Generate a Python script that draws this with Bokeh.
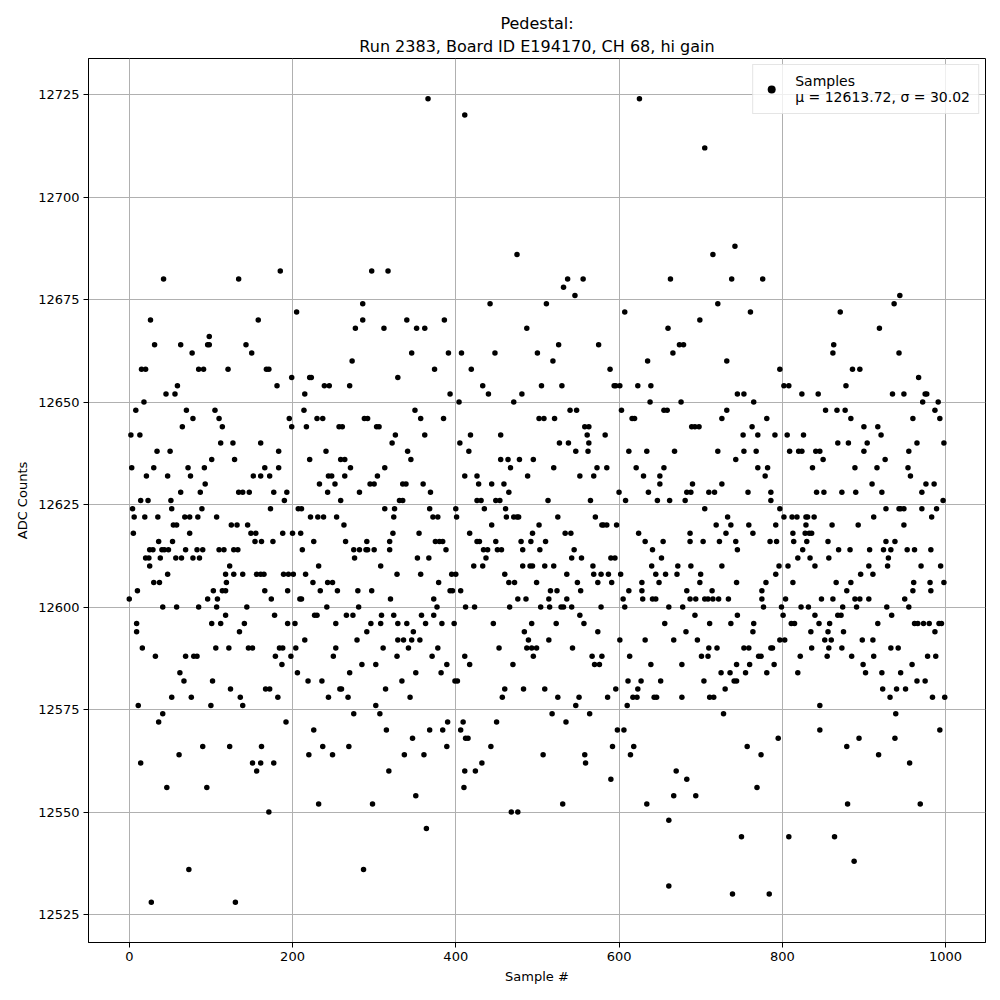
from bokeh.plotting import figure
from bokeh.models import Range1d, FixedTicker, Legend, LegendItem, BasicTickFormatter, Title
from bokeh.embed import file_html
from bokeh.resources import INLINE

# (sample #, ADC counts), block by block
block_a = [(42,12680),(26,12670),(31,12664),(63,12664),(77,12662),(15,12658),(20,12658),(45,12652),(56,12652),(59,12654),
           (18,12650),(8,12648),(70,12648),(78,12646),(65,12644),(2,12642),(13,12642),(34,12638),(50,12638),(3,12634),
           (30,12634),(72,12634),(21,12632),(47,12632),(75,12632),(63,12628),(14,12626),(23,12626),(51,12626),(4,12624),
           (52,12624),(6,12622),(19,12622),(35,12622),(68,12622),(74,12622),(54,12620),(58,12620),(5,12618),(74,12618),
           (36,12616),(53,12616),(25,12614),(29,12614),(40,12614),(43,12614),(48,12614),(69,12614),(20,12612),(24,12612),
           (38,12612),(57,12612),(64,12612),(78,12612),(25,12610),(47,12608),(30,12606),(37,12606),(10,12604),(0,12602),
           (41,12600),(58,12600),(9,12596),(9,12594),(16,12590),(32,12588),(69,12588),(79,12588),(62,12584),(67,12582),
           (52,12578),(76,12578),(11,12576),(41,12574),(36,12572),(61,12564),(14,12562),(46,12556),(73,12536),(27,12528)]
block_b = [(134,12680),(158,12670),(98,12666),(96,12664),(98,12664),(143,12664),(150,12662),(85,12658),(91,12658),(121,12658),
           (105,12648),(110,12646),(114,12644),(112,12640),(127,12640),(161,12640),(129,12636),(101,12636),(92,12634),(152,12632),
           (161,12632),(93,12630),(87,12628),(134,12628),(139,12628),(147,12628),(89,12624),(84,12622),(107,12622),(125,12620),
           (132,12620),(145,12620),(149,12618),(155,12618),(154,12616),(162,12616),(83,12614),(90,12614),(110,12614),(116,12614),
           (128,12614),(133,12614),(86,12612),(123,12610),(118,12608),(128,12608),(139,12608),(156,12608),(161,12608),(119,12606),
           (103,12604),(114,12604),(118,12604),(96,12602),(108,12602),(85,12600),(107,12600),(144,12600),(101,12596),(112,12596),
           (141,12596),(118,12598),(135,12594),(106,12590),(122,12590),(146,12590),(151,12590),(83,12588),(102,12582),(124,12580),
           (136,12578),(100,12576),(139,12576),(90,12566),(123,12566),(151,12562),(161,12562),(156,12560),(95,12556),(130,12528)]
block_c = [(185,12682),(205,12672),(168,12658),(171,12658),(199,12656),(221,12656),(223,12656),(181,12654),(239,12654),(245,12654),
           (215,12652),(214,12648),(196,12646),(199,12644),(217,12644),(230,12646),(237,12646),(183,12638),(241,12638),(166,12634),
           (183,12634),(221,12636),(172,12632),(244,12632),(233,12630),(177,12628),(193,12628),(243,12628),(190,12626),(173,12624),
           (207,12624),(211,12624),(222,12622),(231,12622),(238,12622),(188,12618),(200,12618),(210,12618),(176,12616),(226,12616),
           (212,12614),(165,12608),(189,12608),(195,12608),(201,12608),(216,12608),(232,12610),(166,12604),(194,12604),(234,12604),
           (225,12606),(243,12606),(174,12602),(209,12602),(211,12602),(242,12600),(178,12598),(227,12598),(230,12598),(194,12596),
           (203,12596),(215,12592),(184,12590),(188,12590),(204,12590),(179,12588),(198,12588),(187,12586),(206,12584),(219,12582),
           (236,12582),(167,12580),(172,12580),(182,12578),(244,12578),(192,12572),(226,12570),(162,12566),(237,12566),(220,12564),
           (177,12562),(232,12552),(171,12550)]
block_d = [(297,12682),(317,12682),(286,12674),(277,12668),(286,12670),(312,12668),(273,12660),(270,12654),(329,12656),(288,12646),
           (292,12646),(257,12644),(261,12644),(303,12644),(306,12644),(326,12642),(322,12640),(259,12636),(264,12636),(271,12634),
           (313,12634),(248,12632),(264,12632),(304,12632),(252,12630),(295,12630),(300,12630),(282,12628),(259,12626),(313,12624),
           (325,12624),(254,12622),(324,12622),(263,12620),(323,12618),(265,12616),(291,12616),(319,12616),(275,12614),(282,12614),
           (290,12614),(292,12614),(300,12614),(319,12614),(276,12612),(308,12610),(328,12608),(249,12606),(255,12604),(280,12604),
           (297,12604),(320,12602),(281,12600),(266,12598),(274,12598),(309,12598),(324,12598),(253,12596),(296,12596),(308,12596),
           (329,12596),(291,12594),(279,12592),(329,12592),(253,12590),(311,12590),(250,12588),(328,12588),(285,12586),(302,12586),
           (270,12584),(258,12580),(260,12580),(314,12580),(268,12578),(302,12576),(275,12574),(307,12574),(315,12570),(269,12566),
           (249,12564),(318,12560),(298,12552),(287,12536)]
block_e = [(366,12724),(411,12720),(340,12670),(386,12670),(352,12668),(362,12668),(346,12662),(391,12662),(407,12662),(374,12658),
           (393,12652),(404,12650),(350,12648),(357,12646),(385,12646),(362,12642),(341,12638),(345,12636),(405,12640),(411,12632),
           (335,12630),(339,12630),(360,12630),(369,12628),(331,12626),(335,12626),(368,12624),(400,12624),(401,12622),(372,12622),
           (378,12622),(355,12618),(375,12616),(380,12616),(384,12616),(388,12614),(353,12612),(367,12612),(357,12608),(395,12608),
           (400,12608),(379,12606),(393,12604),(396,12604),(406,12604),(373,12602),(377,12600),(412,12600),(358,12598),(373,12598),
           (340,12596),(363,12596),(383,12596),(398,12596),(348,12594),(336,12592),(346,12592),(356,12592),(342,12590),(378,12590),
           (371,12588),(411,12588),(389,12586),(351,12584),(382,12584),(334,12582),(399,12582),(402,12582),(344,12578),(390,12572),
           (409,12572),(368,12570),(384,12570),(406,12570),(389,12566),(412,12568),(347,12568),(337,12564),(361,12564),(410,12556),
           (351,12554),(364,12546)]
block_f = [(475,12686),(442,12674),(487,12668),(448,12662),(419,12658),(433,12654),(440,12652),(481,12652),(471,12650),(418,12642),
           (455,12642),(416,12638),(455,12636),(464,12636),(478,12636),(495,12636),(467,12634),(426,12632),(488,12632),(428,12630),
           (444,12630),(459,12630),(465,12628),(426,12626),(431,12626),(449,12626),(454,12626),(435,12624),(461,12624),(462,12622),
           (471,12622),(475,12622),(477,12622),(494,12618),(444,12620),(417,12618),(426,12616),(429,12616),(449,12616),(480,12616),
           (492,12616),(434,12614),(439,12614),(451,12614),(456,12614),(482,12614),(437,12612),(422,12610),(433,12610),(482,12610),
           (491,12610),(494,12610),(460,12608),(465,12606),(472,12606),(476,12602),(486,12602),(423,12600),(466,12600),(446,12596),
           (493,12596),(484,12594),(489,12592),(453,12590),(487,12590),(493,12590),(495,12588),(417,12586),(470,12586),(460,12580),
           (483,12580),(457,12578),(450,12572),(415,12568),(443,12566),(411,12560),(424,12560),(432,12562),(468,12550),(476,12550)]
block_g = [(537,12680),(556,12680),(532,12678),(546,12676),(511,12674),(526,12664),(575,12664),(500,12662),(519,12660),(505,12654),
           (530,12654),(540,12648),(548,12648),(502,12646),(508,12646),(521,12646),(558,12644),(563,12644),(561,12642),(527,12640),
           (538,12640),(563,12640),(547,12638),(562,12638),(520,12634),(573,12634),(552,12632),(569,12632),(513,12626),(565,12626),
           (525,12622),(571,12622),(502,12620),(579,12620),(534,12618),(541,12618),(510,12616),(503,12614),(545,12614),(542,12612),
           (554,12612),(509,12610),(520,12610),(568,12610),(499,12606),(549,12606),(574,12606),(536,12608),(569,12608),(578,12608),
           (516,12604),(524,12604),(553,12604),(514,12602),(536,12602),(504,12600),(515,12600),(529,12600),(532,12600),(542,12600),
           (578,12600),(552,12598),(523,12596),(557,12596),(574,12594),(514,12592),(499,12590),(543,12590),(567,12588),(579,12588),
           (570,12586),(576,12586),(509,12580),(525,12578),(551,12578),(547,12576),(518,12574),(564,12574),(535,12572),(507,12564),
           (558,12564),(559,12562),(531,12552)]
block_h = [(625,12724),(663,12680),(607,12672),(660,12668),(635,12660),(589,12658),(594,12654),(596,12654),(601,12654),(623,12654),
           (639,12654),(638,12650),(603,12648),(655,12648),(659,12648),(616,12646),(619,12646),(583,12642),(612,12638),(634,12638),
           (585,12634),(621,12634),(655,12634),(630,12632),(650,12632),(650,12630),(600,12628),(636,12628),(608,12626),(647,12626),
           (662,12626),(581,12620),(585,12620),(597,12620),(624,12618),(632,12616),(654,12616),(641,12614),(590,12612),(595,12612),
           (652,12612),(640,12610),(587,12608),(602,12608),(645,12608),(657,12608),(591,12606),(628,12606),(649,12606),(612,12604),
           (628,12604),(605,12602),(629,12602),(641,12602),(645,12602),(607,12600),(661,12600),(656,12596),(601,12592),(632,12592),
           (613,12588),(639,12586),(611,12582),(627,12582),(651,12582),(596,12580),(623,12580),(586,12578),(617,12578),(622,12578),
           (643,12578),(646,12578),(610,12576),(598,12570),(606,12570),(592,12566),(618,12566),(614,12564),(590,12558),(634,12552),
           (661,12548),(661,12532)]
block_i = [(705,12712),(715,12686),(742,12688),(738,12680),(721,12674),(699,12670),(674,12664),(679,12664),(666,12662),(732,12660),
           (745,12652),(676,12650),(726,12646),(732,12648),(689,12644),(693,12644),(698,12644),(668,12638),(721,12638),(743,12636),
           (690,12630),(726,12630),(683,12628),(688,12628),(710,12628),(717,12628),(681,12626),(705,12624),(733,12622),(719,12620),
           (737,12620),(687,12618),(731,12618),(687,12616),(703,12616),(723,12616),(743,12616),(745,12614),(672,12610),(688,12610),
           (726,12610),(671,12608),(700,12608),(699,12606),(744,12606),(683,12604),(714,12604),(687,12602),(694,12602),(705,12602),
           (709,12602),(715,12602),(722,12602),(734,12602),(678,12600),(693,12598),(745,12598),(711,12596),(737,12596),(682,12594),
           (667,12592),(696,12592),(710,12590),(720,12590),(701,12588),(709,12588),(677,12586),(744,12586),(725,12584),(736,12584),
           (704,12582),(741,12582),(744,12582),(730,12580),(677,12578),(711,12578),(716,12578),(728,12574),(670,12560),(683,12558),
           (667,12554),(694,12554),(739,12530)]
block_j = [(776,12680),(761,12672),(797,12658),(753,12652),(802,12654),(808,12654),(824,12652),(765,12650),(781,12646),(763,12644),
           (752,12642),(770,12642),(791,12642),(806,12642),(826,12642),(753,12638),(768,12638),(809,12638),(820,12638),(824,12638),
           (770,12634),(782,12634),(779,12632),(758,12628),(786,12628),(786,12626),(797,12624),(802,12622),(812,12622),(818,12622),
           (829,12622),(759,12620),(792,12620),(764,12618),(813,12618),(828,12618),(785,12616),(793,12616),(814,12616),(825,12614),
           (819,12612),(796,12610),(807,12610),(792,12608),(780,12606),(813,12606),(775,12604),(775,12602),(804,12602),(777,12600),
           (799,12600),(823,12600),(801,12598),(811,12596),(815,12596),(765,12596),(764,12594),(797,12592),(803,12592),(753,12590),
           (759,12590),(786,12590),(788,12590),(822,12588),(771,12588),(774,12588),(760,12586),(790,12586),(755,12584),(781,12584),
           (819,12584),(795,12568),(757,12566),(774,12564),(769,12556),(750,12544),(808,12544),(784,12530)]
block_k = [(871,12672),(863,12664),(862,12662),(886,12658),(895,12658),(878,12654),(844,12652),(853,12648),(867,12648),(877,12648),
           (884,12646),(900,12644),(904,12640),(868,12640),(881,12640),(841,12638),(846,12638),(900,12638),(850,12636),(837,12634),
           (889,12634),(910,12630),(842,12628),(851,12628),(873,12628),(890,12628),(831,12622),(839,12622),(912,12622),(829,12620),
           (861,12620),(893,12620),(833,12618),(836,12618),(830,12616),(856,12616),(869,12614),(883,12614),(907,12614),(834,12612),
           (857,12612),(840,12610),(906,12610),(896,12608),(911,12608),(866,12606),(884,12606),(879,12604),(848,12602),(862,12602),
           (889,12602),(895,12602),(906,12602),(832,12600),(874,12600),(891,12600),(840,12598),(868,12598),(872,12598),(845,12596),
           (858,12596),(835,12594),(856,12594),(875,12594),(852,12592),(860,12592),(898,12592),(911,12592),(836,12590),(857,12590),
           (873,12590),(855,12588),(885,12588),(912,12588),(899,12586),(902,12584),(846,12576),(846,12570),(894,12568),(879,12566),
           (880,12552),(864,12544),(888,12538)]
block_l = [(944,12676),(937,12674),(919,12668),(943,12662),(967,12656),(935,12652),(949,12652),(975,12652),(977,12652),(972,12650),
           (991,12650),(987,12648),(960,12646),(993,12646),(917,12644),(921,12642),(965,12640),(998,12640),(955,12638),(926,12636),
           (916,12634),(954,12634),(957,12632),(976,12630),(986,12630),(922,12628),(971,12628),(997,12626),(927,12624),(943,12624),
           (945,12624),(949,12624),(971,12624),(989,12624),(983,12622),(949,12620),(927,12616),(938,12616),(924,12614),(933,12614),
           (953,12614),(962,12614),(982,12614),(930,12612),(929,12610),(970,12610),(994,12610),(961,12606),(981,12606),(998,12606),
           (960,12604),(982,12604),(950,12602),(928,12600),(955,12600),(934,12598),(917,12596),(962,12596),(966,12596),(973,12596),
           (980,12596),(992,12596),(995,12596),(987,12594),(933,12590),(942,12590),(978,12588),(988,12588),(959,12586),(922,12584),
           (945,12584),(965,12582),(975,12582),(940,12580),(951,12580),(923,12580),(932,12578),(984,12578),(999,12578),(939,12574),
           (993,12570),(938,12568),(918,12564),(956,12562),(969,12552)]

x_ticks = [0, 200, 400, 600, 800, 1000]
y_ticks = [12525, 12550, 12575, 12600, 12625, 12650, 12675, 12700, 12725]
title_line1 = "Pedestal:"
title_line2 = "Run 2383, Board ID E194170, CH 68, hi gain"
legend_text = "Samples\n\u03bc = 12613.72, \u03c3 = 30.02"

pairs = sorted(block_a + block_b + block_c + block_d + block_e + block_f +
               block_g + block_h + block_i + block_j + block_k + block_l)
sample_idx = [s for s, _ in pairs]
adc_counts = [v for _, v in pairs]

FONT = "DejaVu Sans"

p = figure(width=992, height=992, output_backend="svg", toolbar_location=None,
           x_range=Range1d(-49.95, 1048.95), y_range=Range1d(12518.2, 12733.8),
           min_border_left=88, min_border_right=7, min_border_top=58, min_border_bottom=50,
           background_fill_color="white", border_fill_color="white", title=None)

# two centred title lines (line 2 nearest the plot)
p.add_layout(Title(text=title_line2, align="center", text_font=FONT, text_font_size="16px",
                   text_font_style="normal", text_color="black", standoff=5), "above")
p.add_layout(Title(text=title_line1, align="center", text_font=FONT, text_font_size="16px",
                   text_font_style="normal", text_color="black", standoff=0), "above")

r = p.scatter(sample_idx, adc_counts, size=5.5, marker="circle",
              fill_color="black", line_color=None)

for ax in (p.xaxis[0], p.yaxis[0]):
    ax.major_label_text_font = FONT
    ax.major_label_text_font_size = "13px"
    ax.major_label_text_color = "black"
    ax.axis_label_text_font = FONT
    ax.axis_label_text_font_size = "13px"
    ax.axis_label_text_font_style = "normal"
    ax.axis_label_text_color = "black"
    ax.minor_tick_line_color = None
    ax.major_tick_out = 5
    ax.major_tick_in = 0
    ax.axis_line_color = "black"
    ax.major_tick_line_color = "black"

p.xaxis.ticker = FixedTicker(ticks=x_ticks)
p.yaxis.ticker = FixedTicker(ticks=y_ticks)
p.yaxis.formatter = BasicTickFormatter(use_scientific=False)
p.xaxis.axis_label = "Sample #"
p.yaxis.axis_label = "ADC Counts"
p.xaxis.major_label_standoff = 4
p.yaxis.major_label_standoff = 4

p.grid.grid_line_color = "#b0b0b0"
p.grid.grid_line_width = 1
p.outline_line_color = "black"
p.outline_line_width = 1

legend = Legend(items=[LegendItem(label=legend_text, renderers=[r])],
                location="top_right", margin=6, padding=8, spacing=0,
                label_text_font=FONT, label_text_font_size="14px", label_text_color="black",
                label_standoff=14, glyph_width=20,
                border_line_color="#cccccc", border_line_width=1,
                background_fill_color="white", background_fill_alpha=0.8)
p.add_layout(legend)

open("out.html", "w").write(file_html(p, INLINE))
